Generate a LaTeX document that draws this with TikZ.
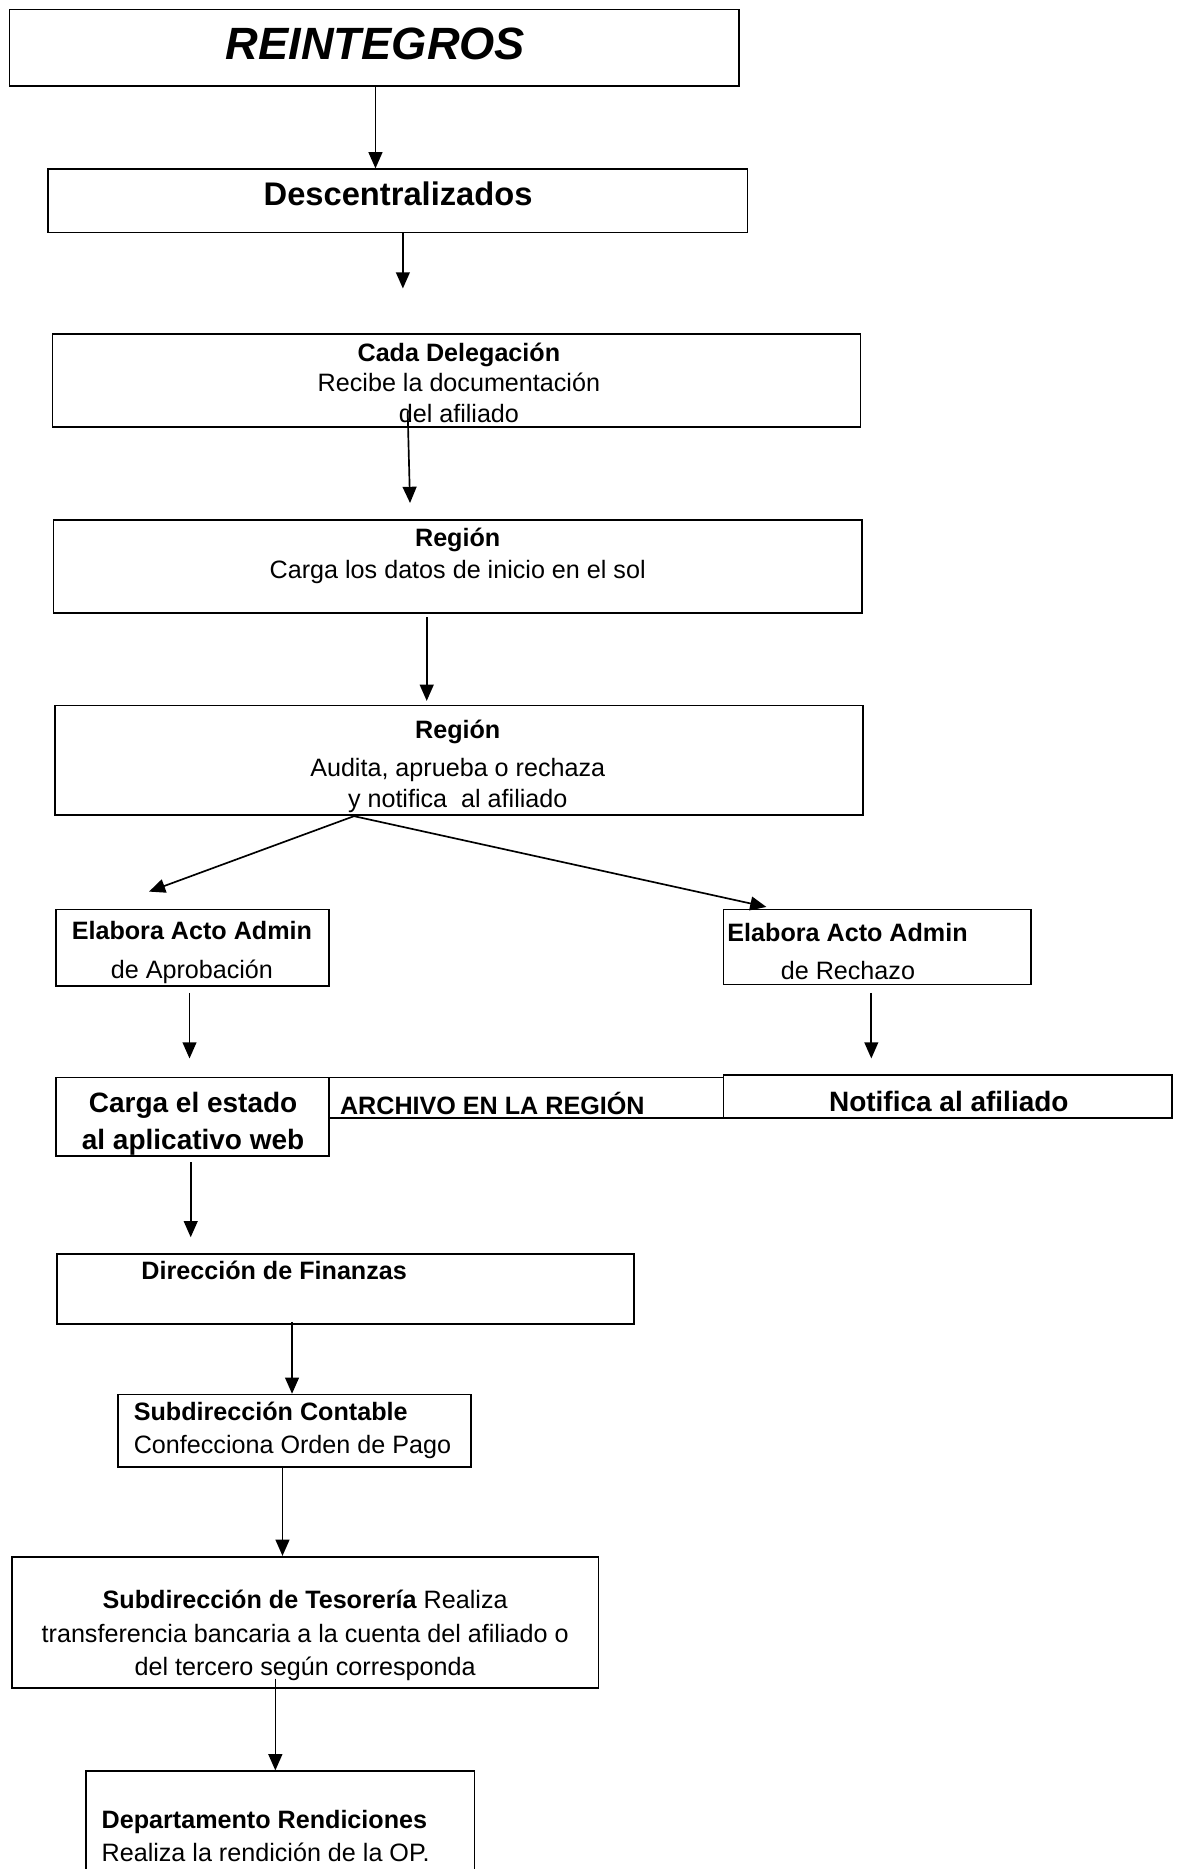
\documentclass[tikz,border=0pt]{standalone}
\usepackage{fontspec}
\setmainfont{Liberation Sans}
\usetikzlibrary{arrows.meta, fit, positioning}

\tikzset{
  caja/.style={draw, line width=1pt, inner sep=0pt},
  flecha/.style={line width=1pt, -{Triangle[length=0.34cm, width=0.29cm]}},
  texto/.style={inner sep=0pt, align=center, font=\fontsize{15}{19.8}\selectfont},
}

\begin{document}
\begin{tikzpicture}[x=0.025cm, y=-0.025cm]
        \useasboundingbox (0,0) rectangle (989,1568);
        \node[caja, fit={(8,8) (620,72)}] (titulo) {};
        \node[caja, fit={(40,142) (627,195)}] (desc) {};
        \node[caja, fit={(44,280) (722,358)}] (deleg) {};
        \node[caja, fit={(45,436) (723,514)}] (reg1) {};
        \node[caja, fit={(46,592) (724,684)}] (reg2) {};
        \node[caja, fit={(47,763) (276,827)}] (aprob) {};
        \node[caja, fit={(607,763) (865,826)}] (rech) {};
        \node[caja, fit={(47,904) (276,970)}] (carga) {};
        \node[caja, fit={(276,904) (607,938)}] (archivo) {};
        \node[caja, fit={(607,902) (983,938)}] (notif) {};
        \node[caja, fit={(48,1052) (532,1111)}] (finan) {};
        \node[caja, fit={(99,1170) (395,1231)}] (contab) {};
        \node[caja, fit={(10,1306) (502,1416)}] (tes) {};
        \node[caja, fit={(72,1486) (398,1620)}] (rend) {};

        \node[texto, font=\fontsize{27}{30}\selectfont\bfseries\itshape] (tTitulo) at (315,37) {REINTEGROS};
        \node[texto, font=\fontsize{19.5}{22}\selectfont\bfseries] (tDesc) at (334,163) {Descentralizados};
        \node[texto, font=\fontsize{15}{18.1}\selectfont] (tDeleg) at (385,321) {\textbf{Cada Delegación}\\Recibe la documentación\\del afiliado};
        \node[texto, font=\fontsize{15}{19.1}\selectfont] (tReg1) at (384,466) {\textbf{Región}\\Carga los datos de inicio en el sol};
        \node[texto, font=\fontsize{15}{18.4}\selectfont] (tReg2) at (384,643) {\textbf{Región}\\[4pt]Audita, aprueba o rechaza\\y notifica\ \ al afiliado};
        \node[texto, font=\fontsize{15}{23.4}\selectfont] (tAprob) at (161,799) {\textbf{Elabora Acto Admin}\\de Aprobación};
        \node[texto, anchor=west, align=left, font=\fontsize{15}{22.7}\selectfont] (tRech) at (610,798) {\textbf{Elabora Acto Admin}\\\hspace*{1.12cm}de Rechazo};
        \node[texto, font=\fontsize{16.7}{22}\selectfont\bfseries] (tCarga) at (162,943) {Carga el estado\\al aplicativo web};
        \node[texto, anchor=west, font=\fontsize{15}{18}\selectfont\bfseries] (tArch) at (285,926) {ARCHIVO EN LA REGIÓN};
        \node[texto, font=\fontsize{16.7}{20}\selectfont\bfseries] (tNotif) at (796,924) {Notifica al afiliado};
        \node[texto, font=\fontsize{15}{18}\selectfont\bfseries] (tFinan) at (230,1066) {Dirección de Finanzas};
        \node[texto, anchor=west, align=left] (tContab) at (112,1200) {\textbf{Subdirección Contable}\\Confecciona Orden de Pago};
        \node[texto] (tTes) at (256,1372) {\textbf{Subdirección de Tesorería} Realiza\\transferencia bancaria a la cuenta del afiliado o\\del tercero según corresponda};
        \node[texto, anchor=west, align=left] (tRend) at (85,1540) {\textbf{Departamento Rendiciones}\\Realiza la rendición de la OP.};

        \coordinate (f1) at (338,242);
        \coordinate (f2a) at (342,345);
        \coordinate (f2b) at (344,422);
        \coordinate (f3a) at (358,518);
        \coordinate (f3b) at (358,588);
        \coordinate (f4) at (125,748);
        \coordinate (f5a) at (159,833);
        \coordinate (f5b) at (159,888);
        \coordinate (f6a) at (731,833);
        \coordinate (f6b) at (731,888);
        \coordinate (f7a) at (160,975);
        \coordinate (f7b) at (160,1038);

        \draw[flecha] (titulo.south -| 315,0) -- (desc.north -| 315,0);
        \draw[flecha] (desc.south -| f1) -- (f1);
        \draw[flecha] (f2a) -- (f2b);
        \draw[flecha] (f3a) -- (f3b);
        \draw[flecha] (reg2.south -| 297,0) -- (f4);
        \draw[flecha] (reg2.south -| 297,0) -- ([yshift=1pt]rech.north -| 643,0);
        \draw[flecha] (f5a) -- (f5b);
        \draw[flecha] (f6a) -- (f6b);
        \draw[flecha] (f7a) -- (f7b);
        \draw[flecha] ([yshift=2pt]finan.south -| 245,0) -- (contab.north -| 245,0);
        \draw[flecha] (contab.south -| 237,0) -- (tes.north -| 237,0);
        \draw[flecha] ([yshift=6pt]tes.south -| 231,0) -- (rend.north -| 231,0);
\end{tikzpicture}
\end{document}
